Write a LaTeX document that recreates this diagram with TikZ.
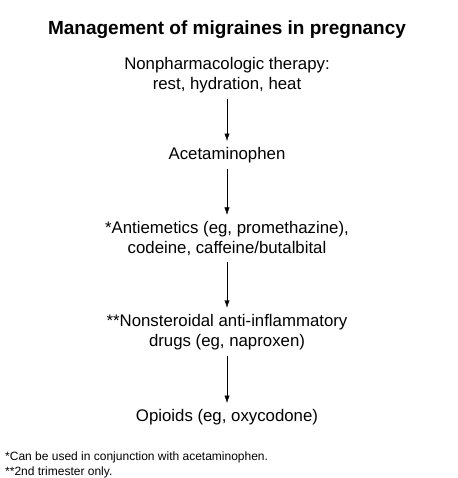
\documentclass[tikz,border=0pt]{standalone}
\usepackage{fontspec}
\setmainfont{Liberation Sans}
\usetikzlibrary{arrows.meta}
\tikzset{%
    >={Latex[length=2.6mm,width=1.8mm]}
}

\begin{document}
\begin{tikzpicture}[x=1pt, y=-1pt, stage/.style={align=center, inner sep=0pt, font=\fontsize{16.8}{20.5}\selectfont}, note/.style={anchor=west, inner sep=0pt, font=\fontsize{12}{14}\selectfont}]
  \useasboundingbox (0,0) rectangle (457,478);

  \node[font=\bfseries\fontsize{19}{22}\selectfont] (title) at (227,30) {Management of migraines in pregnancy};

  \node[stage] (rest) at (227,75) {Nonpharmacologic therapy:\\rest, hydration, heat};
  \node[stage] (apap) at (227,155) {Acetaminophen};
  \node[stage] (anti) at (227,238.5) {*Antiemetics (eg, promethazine),\\codeine, caffeine/butalbital};
  \node[stage] (nsaid) at (227,332) {**Nonsteroidal anti-inflammatory\\drugs (eg, naproxen)};
  \node[stage] (opi) at (227,417) {Opioids (eg, oxycodone)};

  \draw[->, shorten <=6pt, shorten >=6pt] (rest) -- (apap);
  \draw[->, shorten <=6pt, shorten >=6pt] (apap) -- (anti);
  \draw[->, shorten <=6pt, shorten >=6pt] (anti) -- (nsaid);
  \draw[->, shorten <=6pt, shorten >=6pt] (nsaid) -- (opi);

  \node[note] (fn1) at (5,457) {*Can be used in conjunction with acetaminophen.};
  \node[note] (fn2) at (5,472) {**2nd trimester only.};
\end{tikzpicture}
\end{document}
